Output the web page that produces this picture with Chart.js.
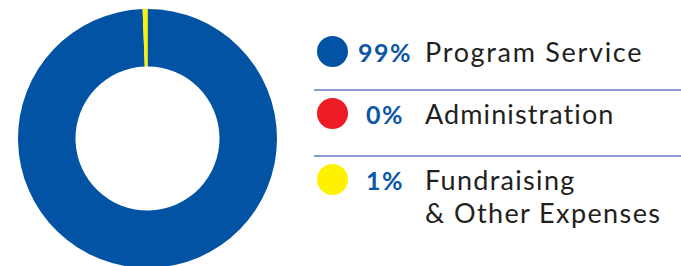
<!DOCTYPE html>
<html lang="en">
<head>
<meta charset="UTF-8">
<title>Expenses</title>
<script src="https://cdn.jsdelivr.net/npm/chart.js"></script>
<style>
  html, body { margin: 0; padding: 0; background: #fff; }
  body { width: 681px; height: 266px; overflow: hidden; position: relative; font-family: "Lato", sans-serif; }
  #donutBox { position: absolute; left: 18px; top: 9px; width: 259px; height: 259px; }
  .dot { position: absolute; width: 31px; height: 31px; border-radius: 50%; left: 317px; }
  .pct { position: absolute; left: 350px; width: 70px; text-align: center; font-weight: 700; color: #0b56a6; font-size: 25px; letter-spacing: 1.5px; line-height: 33px; }
  .lbl { position: absolute; left: 425px; color: #231f20; font-size: 27px; line-height: 33px; white-space: nowrap; }
  .lbl span { display: block; }
  .rule { position: absolute; left: 314px; right: 0; height: 2px; background: #8a9ad6; }
</style>
</head>
<body>
<div id="donutBox"><canvas id="donut"></canvas></div>
<div id="legend"></div>

<script>
    const categories = ['Program Service', 'Administration', 'Fundraising\n& Other Expenses'];
    const shares = [99.4, 0, 0.6];          // slice sizes
    const pctLabels = ['99%', '0%', '1%'];
    const colors = ['#0253a4', '#ed1c24', '#fff200'];

    // legend layout (HTML)
    const rowTops = [35, 97, 163];
    const ruleTops = [89, 155];
    const lineSpacing = [[1.7], [1.1], [1.3, 1.4]];   // letter-spacing per text line
    const legend = document.getElementById('legend');
    categories.forEach((cat, i) => {
        const dot = document.createElement('div');
        dot.className = 'dot';
        dot.style.background = colors[i];
        dot.style.top = (rowTops[i] + 1) + 'px';
        legend.appendChild(dot);

        const pct = document.createElement('div');
        pct.className = 'pct';
        pct.style.top = (rowTops[i] + 1) + 'px';
        pct.textContent = pctLabels[i];
        legend.appendChild(pct);

        const lbl = document.createElement('div');
        lbl.className = 'lbl';
        lbl.style.top = rowTops[i] + 'px';
        cat.split('\n').forEach((line, j) => {
            const span = document.createElement('span');
            span.textContent = line;
            span.style.letterSpacing = lineSpacing[i][j] + 'px';
            lbl.appendChild(span);
        });
        legend.appendChild(lbl);

        if (i < ruleTops.length) {
            const rule = document.createElement('div');
            rule.className = 'rule';
            rule.style.top = ruleTops[i] + 'px';
            legend.appendChild(rule);
        }
    });

    new Chart(document.getElementById('donut'), {
        type: 'doughnut',
        data: {
            labels: categories,
            datasets: [{
                data: shares,
                backgroundColor: colors,
                borderWidth: 0
            }]
        },
        options: {
            responsive: true,
            maintainAspectRatio: false,
            animation: false,
            cutout: '55.6%',
            layout: { padding: 0 },
            plugins: { legend: { display: false }, tooltip: { enabled: false } }
        }
    });
</script>
</body>
</html>
